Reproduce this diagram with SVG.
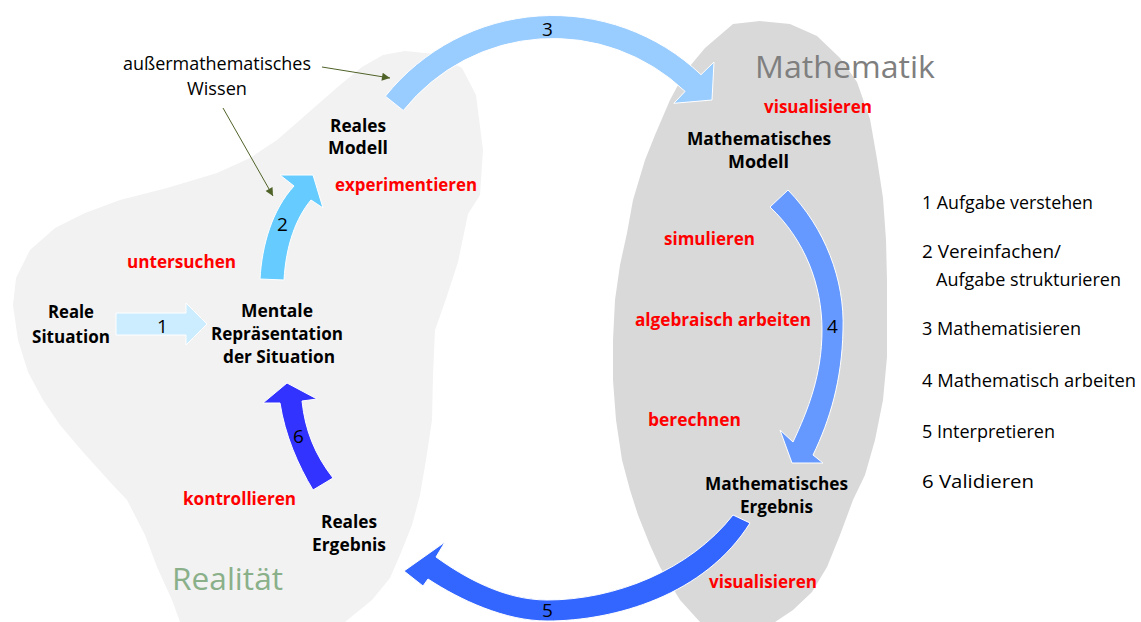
<svg xmlns="http://www.w3.org/2000/svg" width="1141" height="622" viewBox="0 0 1141 622">
<defs>
<marker id="ga" viewBox="0 0 10 10" refX="10" refY="5" markerWidth="9" markerHeight="8" orient="auto" markerUnits="userSpaceOnUse"><path d="M0,0 L10,5 L0,10 Z" fill="#4F6228"/></marker>
</defs>
<style>
text{font-family:"Open Sans","Noto Sans","Liberation Sans",sans-serif;}
.b{font-weight:bold;font-size:18px;fill:#000;}
.r{font-weight:bold;font-size:18px;fill:#FF0000;}
.n{font-size:18.5px;fill:#000;}
.num{font-size:19px;fill:#000;}
.arr{stroke:#fff;stroke-width:1;stroke-linejoin:miter;}
.thin{stroke:#4F6228;stroke-width:1;fill:none;}
</style>
<rect width="1141" height="622" fill="#fff"/>
<g id="realitaet">
<path d="M383,55 L405,51 L435,54 L462,68 L476,95 L483,150 L480,195 L468,214 L458,262 L446,299 L435,330 L433,375 L432,420 L426,460 L420,495 L412,525 L400,555 L390,578 L372,600 L345,622 L180,622 L172,600 L157,567 L145,535 L127,500 L110,482 L83,452 L60,425 L43,400 L28,372 L18,340 L13,305 L16,278 L30,250 L55,228 L85,213 L120,200 L167,188 L217,173 L250,158 L277,140 L300,120 L317,105 L340,85 L362,67 Z" fill="#F2F2F2"/>
<text x="172" y="590" font-size="31" fill="#8AB08A" textLength="111" lengthAdjust="spacingAndGlyphs">Realität</text>
</g>
<g id="mathematik">
<path d="M733,24 L760,21 L790,24 L817,36 L840,58 L857,82 L870,119 L877,159 L883,198 L886,240 L887,280 L887,357 L883,400 L875,440 L865,475 L853,500 L840,535 L827,567 L812,592 L793,610 L775,622 L700,622 L680,600 L660,567 L650,545 L638,515 L630,490 L622,460 L616,420 L613,380 L613,340 L615,300 L620,265 L627,233 L633,200 L645,160 L655,135 L670,100 L685,72 L705,48 Z" fill="#D9D9D9"/>
<text x="755" y="78" font-size="31.5" fill="#7F7F7F" textLength="180" lengthAdjust="spacingAndGlyphs">Mathematik</text>
</g>
<g id="connectors">
<path id="arrow1" class="arr" d="M116,313 L186,313 L186,303 L207,324 L186,345 L186,335 L116,335 Z" fill="#CCECFF"/>
<path id="arrow2" class="arr" d="M260,279 C262,245 272,210 294,186 L280,175 L313,175 L323,208 L311,200 C296,218 286,245 284,280 Z" fill="#66CCFF"/>
<path id="arrow3" class="arr" d="M385.4,96.2 A214.5,214.5 0 0,1 701,74.7 L714,62 L712,100 L673.8,103.3 L685.1,91.4 A191.5,191.5 0 0,0 403.3,110.5 Z" fill="#99CCFF"/>
<path id="arrow4" class="arr" d="M788,190 C825,228 845,280 843,330 C842,380 830,420 813,455 L823,463 L792,463 L780,430 L793,442 C808,410 822,375 822,330 C822,285 805,240 770,207 Z" fill="#6699FF"/>
<path id="arrow5" class="arr" d="M750,523 C705,595 615,621 547,621 C505,621 460,600 428,579 L423,586 L404,571 L445,542 L436,557 C465,578 505,600 547,600 C615,600 690,570 733,515 Z" fill="#3366FF"/>
<path id="arrow6" class="arr" d="M313,490 C298,465 285,435 280,403 L263,403 L287,383 L317,399 L302,401 C305,430 315,455 333,478 Z" fill="#3333FF"/>
<path class="thin" d="M322,67 L390,78" marker-end="url(#ga)"/>
<path class="thin" d="M223,108 L273,196" marker-end="url(#ga)"/>
<text class="num" x="157" y="333">1</text>
<text class="num" x="277" y="231">2</text>
<text class="num" x="542" y="36">3</text>
<text class="num" x="827" y="333">4</text>
<text class="num" x="542" y="617">5</text>
<text class="num" x="293" y="443">6</text>
</g>
<g id="wissen">
<text class="n" x="123" y="70" textLength="188" lengthAdjust="spacingAndGlyphs">außermathematisches</text>
<text class="n" x="187" y="95" textLength="60" lengthAdjust="spacingAndGlyphs">Wissen</text>
</g>
<g id="reale-situation">
<text class="b" x="48" y="318" textLength="46" lengthAdjust="spacingAndGlyphs">Reale</text>
<text class="b" x="32" y="343" textLength="78" lengthAdjust="spacingAndGlyphs">Situation</text>
</g>
<g id="mentale-repraesentation">
<text class="b" x="241" y="317" textLength="72" lengthAdjust="spacingAndGlyphs">Mentale</text>
<text class="b" x="211" y="340" textLength="132" lengthAdjust="spacingAndGlyphs">Repräsentation</text>
<text class="b" x="223" y="363" textLength="112" lengthAdjust="spacingAndGlyphs">der Situation</text>
</g>
<g id="reales-modell">
<text class="b" x="330" y="132" textLength="56" lengthAdjust="spacingAndGlyphs">Reales</text>
<text class="b" x="328" y="154" textLength="60" lengthAdjust="spacingAndGlyphs">Modell</text>
</g>
<g id="mathematisches-modell">
<text class="b" x="687" y="145" textLength="144" lengthAdjust="spacingAndGlyphs">Mathematisches</text>
<text class="b" x="728" y="168" textLength="61" lengthAdjust="spacingAndGlyphs">Modell</text>
</g>
<g id="mathematisches-ergebnis">
<text class="b" x="705" y="490" textLength="143" lengthAdjust="spacingAndGlyphs">Mathematisches</text>
<text class="b" x="740" y="513" textLength="73" lengthAdjust="spacingAndGlyphs">Ergebnis</text>
</g>
<g id="reales-ergebnis">
<text class="b" x="321" y="528" textLength="56" lengthAdjust="spacingAndGlyphs">Reales</text>
<text class="b" x="312" y="551" textLength="74" lengthAdjust="spacingAndGlyphs">Ergebnis</text>
</g>
<g id="activities">
<text class="r" x="127" y="268" textLength="109" lengthAdjust="spacingAndGlyphs">untersuchen</text>
<text class="r" x="335" y="191" textLength="142" lengthAdjust="spacingAndGlyphs">experimentieren</text>
<text class="r" x="183" y="505" textLength="113" lengthAdjust="spacingAndGlyphs">kontrollieren</text>
<text class="r" x="764" y="113" textLength="108" lengthAdjust="spacingAndGlyphs">visualisieren</text>
<text class="r" x="664" y="245" textLength="91" lengthAdjust="spacingAndGlyphs">simulieren</text>
<text class="r" x="635" y="326" textLength="176" lengthAdjust="spacingAndGlyphs">algebraisch arbeiten</text>
<text class="r" x="648" y="426" textLength="93" lengthAdjust="spacingAndGlyphs">berechnen</text>
<text class="r" x="709" y="588" textLength="108" lengthAdjust="spacingAndGlyphs">visualisieren</text>
</g>
<g id="legend">
<text class="n" x="922" y="209" textLength="171" lengthAdjust="spacingAndGlyphs">1 Aufgabe verstehen</text>
<text class="n" x="922" y="258" textLength="139" lengthAdjust="spacingAndGlyphs">2 Vereinfachen/</text>
<text class="n" x="936" y="286" textLength="185" lengthAdjust="spacingAndGlyphs">Aufgabe strukturieren</text>
<text class="n" x="922" y="335" textLength="159" lengthAdjust="spacingAndGlyphs">3 Mathematisieren</text>
<text class="n" x="922" y="387" textLength="214" lengthAdjust="spacingAndGlyphs">4 Mathematisch arbeiten</text>
<text class="n" x="922" y="438" textLength="133" lengthAdjust="spacingAndGlyphs">5 Interpretieren</text>
<text class="n" x="922" y="488" textLength="112" lengthAdjust="spacingAndGlyphs">6 Validieren</text>
</g>
</svg>
